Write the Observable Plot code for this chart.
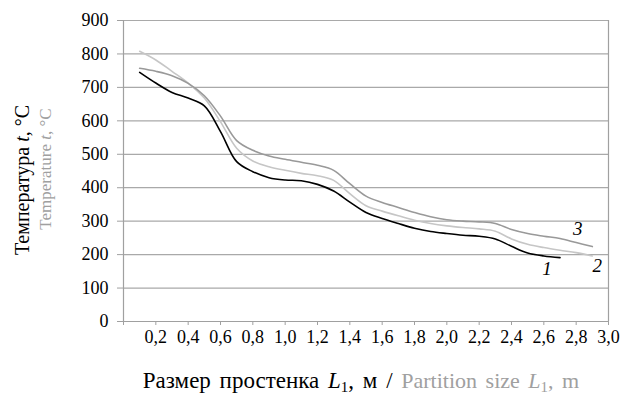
<!DOCTYPE html>
<html>
<head>
<meta charset="utf-8">
<script src="https://cdn.jsdelivr.net/npm/d3@7"></script>
<script src="https://cdn.jsdelivr.net/npm/@observablehq/plot@0.6"></script>
<style>
  html, body { margin: 0; padding: 0; background: #fff; }
  svg text { font-family: "Liberation Serif", "Times New Roman", serif; }
</style>
</head>
<body>
<div id="chart"></div>
<script>
// ---- data ----
const xTicks = [0, 0.2, 0.4, 0.6, 0.8, 1.0, 1.2, 1.4, 1.6, 1.8, 2.0, 2.2, 2.4, 2.6, 2.8, 3.0];
const yTicks = [0, 100, 200, 300, 400, 500, 600, 700, 800, 900];
const xValues = [0.1, 0.2, 0.3, 0.4, 0.5, 0.6, 0.7, 0.8, 0.9, 1.0, 1.1, 1.2, 1.3, 1.4, 1.5,
                 1.6, 1.7, 1.8, 1.9, 2.0, 2.1, 2.2, 2.3, 2.4, 2.5, 2.6, 2.7, 2.8, 2.9];
const series1 = [745, 713, 685, 668, 645, 568, 478, 448, 430, 423, 421, 410, 390, 357, 326,
                 308, 293, 279, 269, 263, 258, 255, 247, 225, 205, 196, 191];
const series2 = [808, 782, 748, 713, 668, 597, 518, 480, 463, 452, 443, 436, 422, 382, 346,
                 330, 316, 303, 293, 286, 281, 277, 270, 247, 231, 221, 213, 206, 196];
const series3 = [757, 748, 735, 712, 675, 614, 541, 512, 495, 485, 476, 467, 452, 412, 375,
                 356, 341, 326, 313, 304, 300, 298, 293, 275, 263, 255, 248, 236, 224];
const seriesNames = ["1", "2", "3"];
const labelX = [2.62, 2.93, 2.81];
const labelY = [158, 167, 278];

// ---- build ----
const serif = "Liberation Serif, Times New Roman, serif";
const gridColor = "#a9a9a9";
const axisColor = "#a0a0a0";
const colors = ["#000000", "#c6c6c6", "#999999"];
const allSeries = [series1, series2, series3];
const rows = allSeries.map(s => s.map((v, i) => ({x: xValues[i], y: v})));
const labels = seriesNames.map((n, i) => ({name: n, x: labelX[i], y: labelY[i]}));
const fmtX = d => d === 0 ? "" : d.toFixed(1).replace(".", ",");

const chart = Plot.plot({
  width: 631,
  height: 398,
  marginLeft: 123,
  marginRight: 23,
  marginTop: 20,
  marginBottom: 77,
  style: {fontFamily: serif, fontSize: "18px", background: "#fff", color: "#000"},
  x: {domain: [0, 3]},
  y: {domain: [0, 900]},
  marks: [
    Plot.gridY(yTicks, {stroke: gridColor, strokeOpacity: 1, strokeWidth: 1.2}),
    Plot.ruleX([3], {stroke: axisColor, strokeWidth: 1.2}),
    Plot.ruleX([0], {stroke: axisColor, strokeWidth: 1.2}),
    Plot.ruleY([0], {stroke: axisColor, strokeWidth: 1.2}),
    Plot.axisY(yTicks, {tickSize: 6, tickPadding: 9, stroke: axisColor, fill: "#000", label: null,
      fontFamily: serif, fontSize: 18, tickFormat: d => String(d)}),
    Plot.axisX(xTicks, {tickSize: 4, tickPadding: 5, stroke: axisColor, fill: "#000", label: null,
      fontFamily: serif, fontSize: 18, tickFormat: fmtX}),
    ...rows.map((r, i) => Plot.line(r, {x: "x", y: "y", stroke: colors[i], strokeWidth: 1.6, curve: "catmull-rom"})),
    Plot.text(labels, {x: "x", y: "y", text: "name", fontStyle: "italic", fontSize: 19, fill: "#000", fontFamily: serif})
  ]
});

document.getElementById("chart").appendChild(chart);

const svg = d3.select(chart);
// y-axis titles
const yt1 = svg.append("text")
  .attr("transform", "translate(29,180) rotate(-90)")
  .attr("text-anchor", "middle")
  .attr("font-size", 20).attr("fill", "#000");
yt1.append("tspan").text("Температура ");
yt1.append("tspan").attr("font-style", "italic").text("t");
yt1.append("tspan").text(", °C");

const yt2 = svg.append("text")
  .attr("transform", "translate(51,169) rotate(-90)")
  .attr("text-anchor", "middle")
  .attr("font-size", 17).attr("fill", "#a0a0a0");
yt2.append("tspan").text("Temperature ");
yt2.append("tspan").attr("font-style", "italic").text("t");
yt2.append("tspan").text(", °C");

// x-axis title
const xt = svg.append("text")
  .attr("x", 361).attr("y", 388)
  .attr("text-anchor", "middle")
  .style("word-spacing", "3px");
xt.append("tspan").attr("font-size", 23).attr("fill", "#000").text("Размер простенка ");
xt.append("tspan").attr("font-size", 23).attr("fill", "#000").attr("font-style", "italic").text("L");
xt.append("tspan").attr("font-size", 15).attr("fill", "#000").attr("dy", 4).text("1");
xt.append("tspan").attr("font-size", 23).attr("fill", "#000").attr("dy", -4).text(", м / ");
xt.append("tspan").attr("font-size", 22).attr("fill", "#a0a0a0").text("Partition size ");
xt.append("tspan").attr("font-size", 22).attr("fill", "#a0a0a0").attr("font-style", "italic").text("L");
xt.append("tspan").attr("font-size", 15).attr("fill", "#a0a0a0").attr("dy", 4).text("1");
xt.append("tspan").attr("font-size", 22).attr("fill", "#a0a0a0").attr("dy", -4).text(", m");
</script>
</body>
</html>
